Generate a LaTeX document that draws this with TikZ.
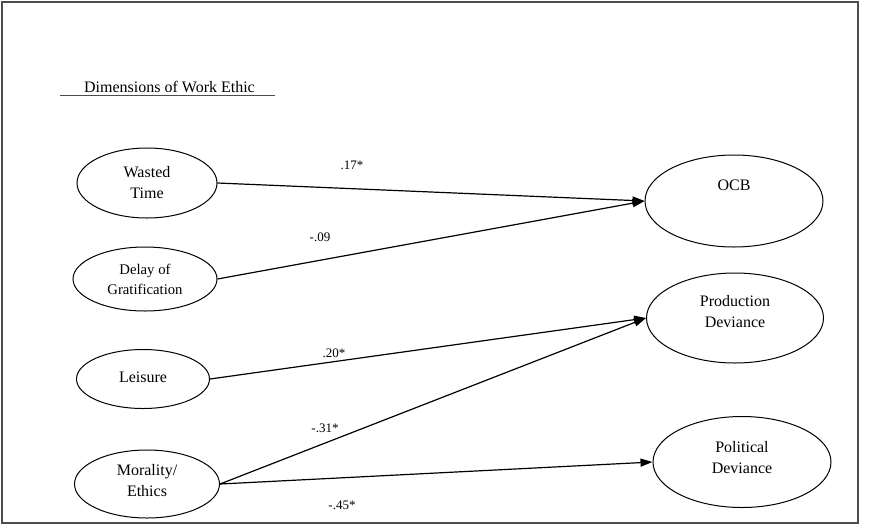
\documentclass[tikz,border=0pt]{standalone}
\usepackage{fontspec}
\setmainfont{Liberation Serif}
\usetikzlibrary{shapes.geometric,arrows.meta}
\begin{document}
\begin{tikzpicture}[x=1pt,y=-1pt,
  oval/.style={draw, ellipse, inner sep=0pt, line width=1pt},
  txt/.style={font=\fontsize{16}{21}\selectfont, align=center, inner sep=0pt},
  smalltxt/.style={font=\fontsize{14.7}{20}\selectfont, align=center, inner sep=0pt},
  coef/.style={font=\fontsize{13}{15}\selectfont, inner sep=0pt},
  path/.style={line width=1.2pt, -{Triangle[length=12pt,width=8pt]}}]
\useasboundingbox (0,0) rectangle (872,528);
\draw[line width=1.6pt, gray!60!black] (2,2) rectangle (858,523);
% title
\node[txt, anchor=base] (title) at (169.5,92) {Dimensions of Work Ethic};
\draw[line width=0.9pt, gray!60!black] (60,95) coordinate (ul1) -- (275,95) coordinate (ul2);
% predictors
\node[oval, minimum width=140pt, minimum height=70pt] (wt) at (147,183) {};
\node[txt] (wtt) at (147,182.5) {Wasted\\Time};
\node[oval, minimum width=144pt, minimum height=64pt] (dg) at (145,279) {};
\node[smalltxt] (dgt) at (145,279) {Delay of\\Gratification};
\node[oval, minimum width=133pt, minimum height=59pt] (le) at (143,379) {};
\node[txt] (let) at (143,377) {Leisure};
\node[oval, minimum width=145pt, minimum height=68pt] (mo) at (147,484) {};
\node[txt] (mot) at (147,481) {Morality/\\Ethics};
% outcomes
\node[oval, minimum width=178pt, minimum height=92pt] (ocb) at (734,201) {};
\node[txt] (ocbt) at (734,185) {OCB};
\node[oval, minimum width=177pt, minimum height=90pt] (pd) at (735,318) {};
\node[txt] (pdt) at (735,312) {Production\\Deviance};
\node[oval, minimum width=178pt, minimum height=91pt] (pol) at (742,462) {};
\node[txt] (polt) at (742,457.5) {Political\\Deviance};
% paths
\draw[path] (wt.east) -- (ocb.west);
\draw[path] (dg.east) -- (ocb.west);
\draw[path] (le.east) -- (pd.west);
\draw[path] (mo.east) -- (pd.west);
\draw[path] (mo.east) -- (pol.west);
% coefficients
\node[coef] (c1) at (352,165) {.17*};
\node[coef] (c2) at (320,237) {-.09};
\node[coef] (c3) at (334,353) {.20*};
\node[coef] (c4) at (325,428) {-.31*};
\node[coef] (c5) at (342,505) {-.45*};
\end{tikzpicture}
\end{document}
